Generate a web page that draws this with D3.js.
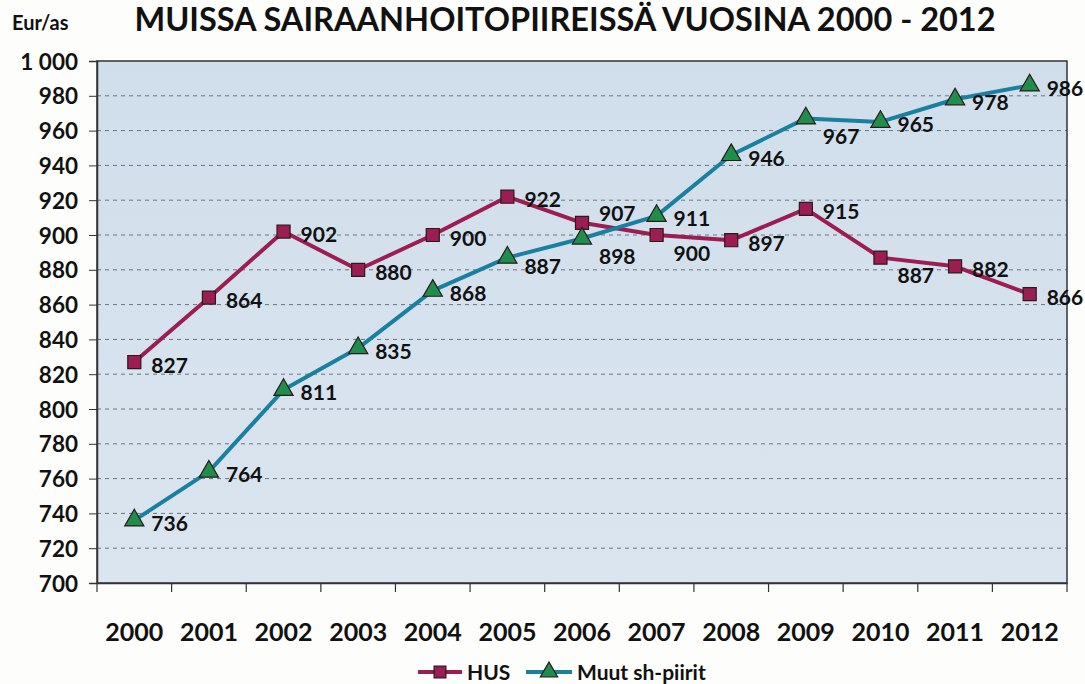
<!DOCTYPE html>
<html>
<head>
<meta charset="utf-8">
<script src="https://cdn.jsdelivr.net/npm/d3@7"></script>
<style>
  body { margin: 0; background: #fdfdfb; }
  text { font-family: Lato, "Open Sans", sans-serif; font-weight: bold; fill: #111; }
</style>
</head>
<body>
<script>
const years = ['2000', '2001', '2002', '2003', '2004', '2005', '2006', '2007', '2008', '2009', '2010', '2011', '2012']
const hus = [827, 864, 902, 880, 900, 922, 907, 900, 897, 915, 887, 882, 866]
const muut = [736, 764, 811, 835, 868, 887, 898, 911, 946, 967, 965, 978, 986]
const yTicks = [700, 720, 740, 760, 780, 800, 820, 840, 860, 880, 900, 920, 940, 960, 980, 1000]
// label placement: r = right, b = below right, a = above right, m = a bit lower
const husPlace = ['r', 'r', 'r', 'r', 'r', 'r', 'a', 'b', 'r', 'r', 'b', 'r', 'r']
const muutPlace = ['r', 'r', 'r', 'r', 'r', 'm', 'b', 'r', 'r', 'b', 'r', 'r', 'r']

const W = 1085, H = 684
const m = { top: 61, left: 97, right: 18, bottom: 101 }
const bw = W - m.left - m.right
const bh = H - m.top - m.bottom

const svg = d3.select('body').append('svg').attr('width', W).attr('height', H)

const x = d3.scaleBand().domain(years).range([0, bw])
const y = d3.scaleLinear().domain([700, 1000]).range([bh, 0])

const defs = svg.append('defs')
const grad = defs.append('linearGradient').attr('id', 'bg').attr('x1', 0).attr('y1', 0).attr('x2', 0).attr('y2', 1)
grad.append('stop').attr('offset', 0).attr('stop-color', '#d0deeb')
grad.append('stop').attr('offset', 1).attr('stop-color', '#dbe5ef')

svg.append('text').attr('x', 12).attr('y', 30).style('font-size', '20px').text('Eur/as')
svg.append('text').attr('x', 565).attr('y', 31).attr('text-anchor', 'middle')
  .style('font-size', '32.5px').text('MUISSA SAIRAANHOITOPIIREISSÄ VUOSINA 2000 - 2012')

const body = svg.append('g').attr('transform', 'translate(' + m.left + ',' + m.top + ')')

body.append('rect').attr('width', bw).attr('height', bh).attr('fill', 'url(#bg)')

body.append('g').selectAll('line').data(yTicks.filter(d => d > 700 && d < 1000)).join('line')
  .attr('x1', 0).attr('x2', bw).attr('y1', d => y(d)).attr('y2', d => y(d))
  .attr('stroke', '#6b7480').attr('stroke-width', 1).attr('stroke-dasharray', '4,4')

body.append('rect').attr('width', bw).attr('height', bh).attr('fill', 'none')
  .attr('stroke', '#333').attr('stroke-width', 1.5)

const fmt = d => d >= 1000 ? '1 000' : String(d)
const yAxis = body.append('g')
  .call(d3.axisLeft(y).tickValues(yTicks).tickFormat(fmt).tickSize(8).tickPadding(11))
yAxis.select('.domain').attr('stroke', '#333').attr('stroke-width', 1.5)
yAxis.selectAll('.tick line').attr('stroke', '#333')
yAxis.selectAll('text').style('font-size', '22.5px').attr('dy', '0.36em').attr('fill', '#111')

const xAxis = body.append('g').attr('transform', 'translate(0,' + bh + ')')
  .call(d3.axisBottom(x).tickSize(0).tickPadding(40))
xAxis.select('.domain').attr('stroke', '#333').attr('stroke-width', 1.5)
xAxis.selectAll('text').style('font-size', '25px').attr('fill', '#111')
body.append('g').attr('transform', 'translate(0,' + bh + ')')
  .selectAll('line').data(years.concat(['end'])).join('line')
  .attr('x1', (d, i) => i * x.bandwidth()).attr('x2', (d, i) => i * x.bandwidth())
  .attr('y1', 0).attr('y2', 9).attr('stroke', '#333').attr('stroke-width', 1.2)

const cx = d => x(d) + x.bandwidth() / 2
const line = d3.line().x((d, i) => cx(years[i])).y(d => y(d))

const husCol = '#9c1d52', muutCol = '#1a80a0', triCol = '#1f8d4c'

function series(values, places, color, marker, fill) {
  const g = body.append('g')
  g.append('path').datum(values).attr('d', line).attr('fill', 'none')
    .attr('stroke', color).attr('stroke-width', 4).attr('stroke-linejoin', 'round')
  g.selectAll('path.mk').data(values).join('path').attr('class', 'mk')
    .attr('transform', (d, i) => 'translate(' + cx(years[i]) + ',' + y(d) + ')')
    .attr('d', d3.symbol().type(marker).size(marker === d3.symbolSquare ? 170 : 160))
    .attr('fill', fill).attr('stroke', '#2a1a1a').attr('stroke-width', 1.2)
  g.selectAll('text').data(values).join('text')
    .attr('x', (d, i) => cx(years[i]) + 17)
    .attr('y', (d, i) => y(d) + ({ r: 3, b: 18, a: -9, m: 9 })[places[i]])
    .attr('dy', '0.36em').style('font-size', '21px').text(d => d)
}

series(hus, husPlace, husCol, d3.symbolSquare, husCol)
series(muut, muutPlace, muutCol, d3.symbolTriangle, triCol)

// legend
const lg = svg.append('g').attr('transform', 'translate(0,672)')
lg.append('line').attr('x1', 418).attr('x2', 462).attr('stroke', husCol).attr('stroke-width', 4)
lg.append('path').attr('transform', 'translate(440,0)').attr('d', d3.symbol().type(d3.symbolSquare).size(140))
  .attr('fill', husCol).attr('stroke', '#2a1a1a').attr('stroke-width', 1.2)
lg.append('text').attr('x', 467).attr('dy', '0.36em').style('font-size', '21px').text('HUS')
lg.append('line').attr('x1', 526).attr('x2', 572).attr('stroke', muutCol).attr('stroke-width', 4)
lg.append('path').attr('transform', 'translate(549,0)').attr('d', d3.symbol().type(d3.symbolTriangle).size(130))
  .attr('fill', triCol).attr('stroke', '#2a1a1a').attr('stroke-width', 1.2)
lg.append('text').attr('x', 577).attr('dy', '0.36em').style('font-size', '21px').text('Muut sh-piirit')
</script>
</body>
</html>
